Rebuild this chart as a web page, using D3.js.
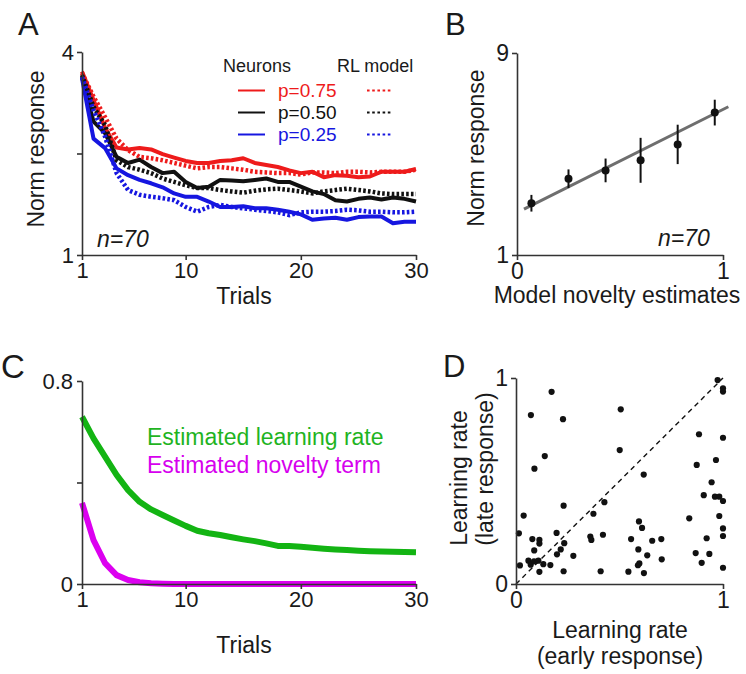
<!DOCTYPE html>
<html><head><meta charset="utf-8">
<script src="https://cdn.jsdelivr.net/npm/d3@7/dist/d3.min.js"></script>
<style>
body{margin:0;background:#fff}
text{font-family:"Liberation Sans",Arial,Helvetica,sans-serif;fill:#1a1a1a}
</style>
</head><body>
<svg id="c" width="746" height="674"></svg>
<script>
// ---------- data ----------
const trials = [1,2,3,4,5,6,7,8,9,10,11,12,13,14,15,16,17,18,19,20,21,22,23,24,25,26,27,28,29,30];
// Panel A: normalized response per trial
const neuron75 = [3.71,3.29,2.88,2.59,2.56,2.58,2.56,2.49,2.44,2.39,2.36,2.36,2.39,2.40,2.43,2.36,2.33,2.30,2.25,2.21,2.23,2.15,2.18,2.17,2.15,2.16,2.23,2.23,2.23,2.27];
const model75  = [3.69,3.34,3.04,2.72,2.55,2.45,2.43,2.40,2.36,2.32,2.28,2.30,2.30,2.28,2.26,2.23,2.22,2.21,2.21,2.19,2.22,2.22,2.21,2.23,2.23,2.22,2.23,2.23,2.23,2.26];
const neuron50 = [3.63,2.97,2.80,2.45,2.36,2.41,2.30,2.21,2.23,2.08,1.99,2.01,2.11,2.10,2.09,2.11,2.13,2.08,2.08,2.01,1.94,1.90,1.81,1.79,1.83,1.85,1.82,1.85,1.83,1.79];
const model50  = [3.66,3.19,2.92,2.40,2.30,2.26,2.21,2.13,2.08,2.03,1.99,1.99,1.96,1.94,1.92,1.95,1.97,1.98,1.96,1.94,1.91,1.94,1.96,1.98,1.96,1.94,1.91,1.90,1.90,1.90];
const neuron25 = [3.61,2.72,2.58,2.28,2.18,2.11,2.06,2.00,1.91,1.86,1.86,1.79,1.71,1.71,1.72,1.69,1.69,1.67,1.64,1.60,1.52,1.54,1.55,1.52,1.56,1.57,1.57,1.47,1.49,1.49];
const model25  = [3.63,3.14,2.75,2.21,1.96,1.89,1.86,1.84,1.81,1.71,1.64,1.71,1.74,1.71,1.69,1.67,1.65,1.63,1.59,1.63,1.64,1.64,1.65,1.67,1.66,1.64,1.64,1.63,1.63,1.64];
const probLabels = ["p=0.75","p=0.50","p=0.25"];
const seriesColors = ["#ee1b1b","#111111","#1616e0"];
const aYTicks = [1,2.5,4], aYLabels = ["1","","4"];
const trialTicks = [1,10,20,30];

// Panel B
const noveltyX   = [0.07,0.25,0.43,0.60,0.78,0.96];
const noveltyY   = [3.05,4.02,4.35,4.75,5.38,6.64];
const noveltyErr = [0.33,0.37,0.47,0.89,0.78,0.51];
const fitX = [0.034,1.026];
const fitY = [2.82,6.87];

// Panel C
const learningRate = [0.659,0.574,0.502,0.430,0.370,0.324,0.294,0.272,0.250,0.229,0.210,0.200,0.193,0.184,0.176,0.169,0.160,0.150,0.150,0.147,0.143,0.139,0.136,0.134,0.131,0.129,0.128,0.127,0.126,0.125];
const noveltyTerm  = [0.320,0.173,0.082,0.035,0.016,0.007,0.003,0.001,0,0,0,0,0,0,0,0,0,0,0,0,0,0,0,0,0,0,0,0,0,0];

// Panel D
const earlyRate = [0.172,0.072,0.227,0.139,0.089,0.230,0.037,0.427,0.374,0.014,0.196,0.079,0.113,0.113,0.233,0.359,0.364,0.420,0.088,0.216,0.198,0.277,0.019,0.060,0.071,0.087,0.108,0.132,0.166,0.113,0.230,0.409,
  0.506,0.501,0.617,0.594,0.609,0.556,0.658,0.702,0.591,0.634,0.704,0.596,0.589,0.543,0.618,
  0.974,0.884,1.0,1.0,1.0,0.966,0.873,0.945,0.907,0.961,0.982,1.0,0.982,0.837,1.0,1.0,0.921,0.868,0.934,0.897,1.0];
const lateRate  = [0.933,0.820,0.800,0.621,0.560,0.380,0.332,0.397,0.341,0.246,0.248,0.218,0.214,0.196,0.198,0.230,0.214,0.239,0.163,0.168,0.144,0.137,0.090,0.113,0.094,0.110,0.113,0.096,0.092,0.059,0.062,0.062,
  0.848,0.650,0.531,0.304,0.272,0.218,0.210,0.218,0.168,0.139,0.120,0.100,0.091,0.060,0.053,
  0.990,0.727,0.950,0.934,0.710,0.602,0.578,0.494,0.431,0.424,0.424,0.403,0.330,0.319,0.270,0.233,0.222,0.150,0.146,0.103,0.079];

// ---------- drawing ----------
const svg = d3.select("#c");
const AX = "#333";

function styleAxis(g, fs){
  g.select(".domain").attr("stroke",AX).attr("stroke-width",1.6);
  g.selectAll(".tick line").attr("stroke",AX).attr("stroke-width",1.6);
  g.selectAll(".tick text").attr("font-size",fs).attr("fill","#1a1a1a").attr("font-family",'"Liberation Sans",Arial,sans-serif');
}
function txt(x,y,s,fs,opts={}){
  const t = svg.append("text").attr("x",x).attr("y",y).attr("font-size",fs).text(s);
  if(opts.anchor) t.attr("text-anchor",opts.anchor);
  if(opts.fill) t.style("fill",opts.fill);
  if(opts.italic) t.attr("font-style","italic");
  if(opts.rot) t.attr("transform",`rotate(-90,${x},${y})`);
  return t;
}

// ===== Panel A =====
const xA = d3.scaleLinear().domain([1,30]).range([82,416]);
const yA = d3.scaleLinear().domain([1,4]).range([255,52]);
const lineA = d3.line().x((d,i)=>xA(trials[i])).y(d=>yA(d));

const neuronSeries = [neuron75,neuron50,neuron25];
const modelSeries = [model75,model50,model25];
neuronSeries.forEach((s,k)=>{
  svg.append("path").datum(s).attr("d",lineA).attr("fill","none")
    .attr("stroke",seriesColors[k]).attr("stroke-width",4).attr("stroke-linejoin","round");
});
modelSeries.forEach((s,k)=>{
  svg.append("path").datum(s).attr("d",lineA).attr("fill","none")
    .attr("stroke",seriesColors[k]).attr("stroke-width",4.5).attr("stroke-dasharray","2.6,2.2");
});
svg.append("g").attr("transform","translate(82,0)")
  .call(d3.axisLeft(yA).tickValues(aYTicks).tickFormat((d,i)=>aYLabels[i]).tickSize(5).tickSizeOuter(0).tickPadding(3))
  .call(g=>styleAxis(g,"22px"));
svg.append("g").attr("transform","translate(0,255)")
  .call(d3.axisBottom(xA).tickValues(trialTicks).tickFormat(d3.format("d")).tickSize(5).tickSizeOuter(0).tickPadding(2))
  .call(g=>styleAxis(g,"22px"));
txt(244,304,"Trials","23px",{anchor:"middle"});
txt(44,149,"Norm response","23px",{anchor:"middle",rot:true});
txt(97,247,"n=70","23px",{italic:true});
txt(18,35,"A","31px");
// legend
txt(223,72,"Neurons","18px");
txt(337,72,"RL model","18px");
probLabels.forEach((lab,k)=>{
  const yb = 97 + k*22;
  svg.append("line").attr("x1",238).attr("x2",265).attr("y1",yb-6.5).attr("y2",yb-6.5)
    .attr("stroke",seriesColors[k]).attr("stroke-width",2);
  svg.append("line").attr("x1",367).attr("x2",393).attr("y1",yb-6.5).attr("y2",yb-6.5)
    .attr("stroke",seriesColors[k]).attr("stroke-width",2.2).attr("stroke-dasharray","2.6,2.6");
  txt(278,yb,lab,"19px",{fill:seriesColors[k]});
});

// ===== Panel B =====
const xB = d3.scaleLinear().domain([0,1]).range([517,723]);
const yB = d3.scaleLinear().domain([1,9]).range([255,53]);
svg.append("line").attr("x1",xB(fitX[0])).attr("x2",xB(fitX[1])).attr("y1",yB(fitY[0])).attr("y2",yB(fitY[1]))
  .attr("stroke","#6e6e6e").attr("stroke-width",3);
noveltyX.forEach((x,i)=>{
  svg.append("line").attr("x1",xB(x)).attr("x2",xB(x))
    .attr("y1",yB(noveltyY[i]-noveltyErr[i])).attr("y2",yB(noveltyY[i]+noveltyErr[i]))
    .attr("stroke","#111").attr("stroke-width",2);
  svg.append("circle").attr("cx",xB(x)).attr("cy",yB(noveltyY[i])).attr("r",4).attr("fill","#111");
});
svg.append("g").attr("transform","translate(517,0)")
  .call(d3.axisLeft(yB).tickValues([1,9]).tickFormat(d3.format("d")).tickSize(5).tickSizeOuter(0).tickPadding(3))
  .call(g=>styleAxis(g,"23px"));
svg.append("g").attr("transform","translate(0,255)")
  .call(d3.axisBottom(xB).tickValues([0,1]).tickFormat(d3.format("d")).tickSize(5).tickSizeOuter(0).tickPadding(3))
  .call(g=>styleAxis(g,"23px"));
txt(617,303,"Model novelty estimates","23px",{anchor:"middle"});
txt(484,148,"Norm response","23px",{anchor:"middle",rot:true});
txt(658,246,"n=70","23px",{italic:true});
txt(445,35,"B","31px");

// ===== Panel C =====
const xC = d3.scaleLinear().domain([1,30]).range([82,416]);
const yC = d3.scaleLinear().domain([0,0.8]).range([584,381]);
const lineC = d3.line().x((d,i)=>xC(trials[i])).y(d=>yC(d));
svg.append("path").datum(learningRate).attr("d",lineC).attr("fill","none")
  .attr("stroke","#13b413").attr("stroke-width",6).attr("stroke-linejoin","round");
svg.append("path").datum(noveltyTerm).attr("d",lineC).attr("fill","none")
  .attr("stroke","#dc00f0").attr("stroke-width",6).attr("stroke-linejoin","round");
svg.append("g").attr("transform","translate(82,0)")
  .call(d3.axisLeft(yC).tickValues([0,0.4,0.8]).tickFormat(d=>d===0.4?"":(d===0?"0":"0.8")).tickSize(5).tickSizeOuter(0).tickPadding(4))
  .call(g=>styleAxis(g,"22px"));
svg.append("g").attr("transform","translate(0,584)")
  .call(d3.axisBottom(xC).tickValues(trialTicks).tickFormat(d3.format("d")).tickSize(5).tickSizeOuter(0).tickPadding(2))
  .call(g=>styleAxis(g,"22px"));
txt(244,653,"Trials","23px",{anchor:"middle"});
txt(147,445,"Estimated learning rate","23px",{fill:"#1fb41f"});
txt(147,473,"Estimated novelty term","23px",{fill:"#d600ee"});
txt(1,378,"C","33px");

// ===== Panel D =====
const xD = d3.scaleLinear().domain([0,1]).range([516,723]);
const yD = d3.scaleLinear().domain([0,1]).range([584,378]);
svg.append("line").attr("x1",xD(0)).attr("y1",yD(0)).attr("x2",xD(1)).attr("y2",yD(1))
  .attr("stroke","#111").attr("stroke-width",1.4).attr("stroke-dasharray","5,4");
svg.selectAll("circle.d").data(earlyRate).enter().append("circle").attr("class","d")
  .attr("cx",d=>xD(d)).attr("cy",(d,i)=>yD(lateRate[i])).attr("r",3.1).attr("fill","#111");
svg.append("g").attr("transform","translate(516,0)")
  .call(d3.axisLeft(yD).tickValues([0,1]).tickFormat(d3.format("d")).tickSize(5).tickSizeOuter(0).tickPadding(3))
  .call(g=>styleAxis(g,"23px"));
svg.append("g").attr("transform","translate(0,584)")
  .call(d3.axisBottom(xD).tickValues([0,1]).tickFormat(d3.format("d")).tickSize(5).tickSizeOuter(0).tickPadding(3))
  .call(g=>styleAxis(g,"23px"));
txt(620,638,"Learning rate","23px",{anchor:"middle"});
txt(620,664,"(early response)","23px",{anchor:"middle"});
txt(467,478,"Learning rate","23px",{anchor:"middle",rot:true});
txt(493,469,"(late response)","23px",{anchor:"middle",rot:true});
txt(443,377,"D","31px");
</script>
</body></html>
